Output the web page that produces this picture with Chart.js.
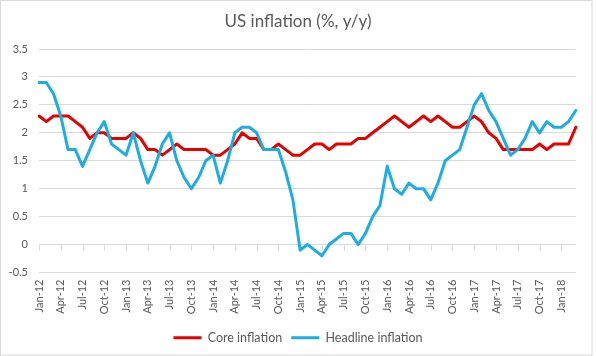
<!DOCTYPE html>
<html>
<head>
<meta charset="utf-8">
<script src="https://cdn.jsdelivr.net/npm/chart.js@4"></script>
<style>
  html, body { margin: 0; padding: 0; background: #ffffff; }
  #c { display: block; }
</style>
</head>
<body>
<canvas id="c" width="596" height="356"></canvas>
<script>
const categories = [
  "Jan-12","Feb-12","Mar-12","Apr-12","May-12","Jun-12","Jul-12","Aug-12","Sep-12","Oct-12","Nov-12","Dec-12",
  "Jan-13","Feb-13","Mar-13","Apr-13","May-13","Jun-13","Jul-13","Aug-13","Sep-13","Oct-13","Nov-13","Dec-13",
  "Jan-14","Feb-14","Mar-14","Apr-14","May-14","Jun-14","Jul-14","Aug-14","Sep-14","Oct-14","Nov-14","Dec-14",
  "Jan-15","Feb-15","Mar-15","Apr-15","May-15","Jun-15","Jul-15","Aug-15","Sep-15","Oct-15","Nov-15","Dec-15",
  "Jan-16","Feb-16","Mar-16","Apr-16","May-16","Jun-16","Jul-16","Aug-16","Sep-16","Oct-16","Nov-16","Dec-16",
  "Jan-17","Feb-17","Mar-17","Apr-17","May-17","Jun-17","Jul-17","Aug-17","Sep-17","Oct-17","Nov-17","Dec-17",
  "Jan-18","Feb-18","Mar-18"
];

const coreInflation = [
  2.3,2.2,2.3,2.3,2.3,2.2,2.1,1.9,2.0,2.0,1.9,1.9,
  1.9,2.0,1.9,1.7,1.7,1.6,1.7,1.8,1.7,1.7,1.7,1.7,
  1.6,1.6,1.7,1.8,2.0,1.9,1.9,1.7,1.7,1.8,1.7,1.6,
  1.6,1.7,1.8,1.8,1.7,1.8,1.8,1.8,1.9,1.9,2.0,2.1,
  2.2,2.3,2.2,2.1,2.2,2.3,2.2,2.3,2.2,2.1,2.1,2.2,
  2.3,2.2,2.0,1.9,1.7,1.7,1.7,1.7,1.7,1.8,1.7,1.8,
  1.8,1.8,2.1
];

const headlineInflation = [
  2.9,2.9,2.7,2.3,1.7,1.7,1.4,1.7,2.0,2.2,1.8,1.7,
  1.6,2.0,1.5,1.1,1.4,1.8,2.0,1.5,1.2,1.0,1.2,1.5,
  1.6,1.1,1.5,2.0,2.1,2.1,2.0,1.7,1.7,1.7,1.3,0.8,
  -0.1,0.0,-0.1,-0.2,0.0,0.1,0.2,0.2,0.0,0.2,0.5,0.7,
  1.4,1.0,0.9,1.1,1.0,1.0,0.8,1.1,1.5,1.6,1.7,2.1,
  2.5,2.7,2.4,2.2,1.9,1.6,1.7,1.9,2.2,2.0,2.2,2.1,
  2.1,2.2,2.4
];

const yMin = -0.5, yMax = 3.5, yStep = 0.5;
const labelEvery = 3;

const TEXT = '#595959';
const GRID = '#d9d9d9';
const FONT = 'Lato, "Open Sans", sans-serif';

const frameAndTicks = {
  id: 'frameAndTicks',
  beforeDraw(chart) {
    const ctx = chart.ctx;
    ctx.save();
    ctx.fillStyle = '#ffffff';
    ctx.fillRect(0, 0, chart.width, chart.height);
    ctx.strokeStyle = GRID;
    ctx.lineWidth = 1;
    ctx.strokeRect(0.5, 0.5, 591.5, 354.5);
    ctx.restore();
  },
  beforeDatasetsDraw(chart) {
    const ctx = chart.ctx;
    const x = chart.scales.x, y = chart.scales.y;
    const y0 = Math.round(y.getPixelForValue(0)) + 0.5;
    ctx.save();
    ctx.strokeStyle = GRID;
    ctx.lineWidth = 1;
    ctx.beginPath();
    for (let i = 0; i < categories.length; i += labelEvery) {
      const px = Math.round(x.getPixelForValue(i)) + 0.5;
      ctx.moveTo(px, y0);
      ctx.lineTo(px, y0 + 5);
    }
    ctx.stroke();
    ctx.restore();
  }
};

new Chart(document.getElementById('c'), {
  type: 'line',
  data: {
    labels: categories,
    datasets: [
      {
        label: 'Core inflation',
        data: coreInflation,
        borderColor: '#e60000',
        backgroundColor: '#e60000',
        borderWidth: 3,
        pointRadius: 0,
        pointStyle: 'line',
        tension: 0,
        borderJoinStyle: 'round',
        borderCapStyle: 'round',
        order: 1
      },
      {
        label: 'Headline inflation',
        data: headlineInflation,
        borderColor: '#1cade4',
        backgroundColor: '#1cade4',
        borderWidth: 3,
        pointRadius: 0,
        pointStyle: 'line',
        tension: 0,
        borderJoinStyle: 'round',
        borderCapStyle: 'round',
        order: 0
      }
    ]
  },
  options: {
    responsive: false,
    animation: false,
    events: [],
    layout: { padding: { left: 0, right: 0, top: 0, bottom: 2 } },
    scales: {
      x: {
        type: 'category',
        offset: false,
        grid: { display: false, drawTicks: false },
        border: { display: false },
        ticks: {
          autoSkip: false,
          minRotation: 90,
          maxRotation: 90,
          padding: 7,
          color: TEXT,
          font: { family: FONT, size: 11 },
          callback: function (val, idx) {
            return idx % labelEvery === 0 ? this.getLabelForValue(val) : '';
          }
        },
        afterFit(scale) { scale.height = 50; }
      },
      y: {
        position: 'left',
        min: yMin,
        max: yMax,
        grid: { color: GRID, lineWidth: 1, drawTicks: false },
        border: { display: false },
        ticks: {
          stepSize: yStep,
          padding: 11,
          color: TEXT,
          font: { family: FONT, size: 11 },
          callback: (v) => String(Number(v.toFixed(1)))
        },
        afterFit(scale) { scale.width = 39; }
      },
      y2: {
        position: 'right',
        display: true,
        grid: { display: false, drawTicks: false },
        border: { display: false },
        ticks: { display: false },
        afterFit(scale) { scale.width = 14; }
      }
    },
    plugins: {
      tooltip: { enabled: false },
      title: {
        display: true,
        text: 'US inflation (%, y/y)',
        color: TEXT,
        font: { family: FONT, size: 17, weight: 'normal', lineHeight: 1.2 },
        padding: { top: 11.3, bottom: 17.3 }
      },
      legend: {
        display: true,
        position: 'bottom',
        labels: {
          usePointStyle: true,
          pointStyle: 'line',
          pointStyleWidth: 28,
          padding: 9,
          color: TEXT,
          font: { family: FONT, size: 12.5 },
          sort: (a, b) => a.datasetIndex - b.datasetIndex
        }
      }
    }
  },
  plugins: [frameAndTicks]
});
</script>
</body>
</html>
